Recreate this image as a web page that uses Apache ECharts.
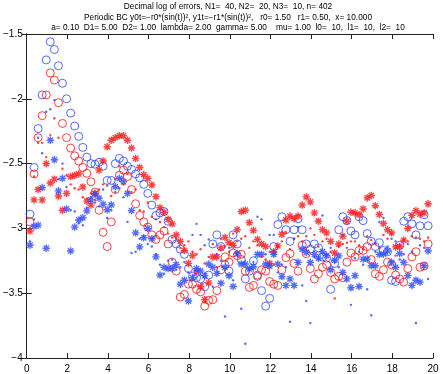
<!DOCTYPE html>
<html>
<head>
<meta charset="utf-8">
<script src="https://cdn.jsdelivr.net/npm/echarts@6/dist/echarts.min.js"></script>
<style>
  html, body { margin: 0; padding: 0; background: #fff; }
  #chart { width: 443px; height: 374px; }
</style>
</head>
<body>
<div id="chart"></div>
<script>
// sample points: x = 0.16, 0.36, ... 19.76 (99 points)
var xStart = 0.16, xStep = 0.2;

var xTicks = [0, 2, 4, 6, 8, 10, 12, 14, 16, 18, 20];
var yTicks = [-4, -3.5, -3, -2.5, -2, -1.5];

var titleLines = [
  'Decimal log of errors, N1=  40, N2=  20, N3=  10, n= 402',
  'Periodic BC y0t=\u2212r0*(sin(t))\u00b2, y1t=\u2212r1*(sin(t))\u00b2,   r0= 1.50   r1= 0.50,  x= 10.000',
  'a= 0.10  D1= 5.00  D2= 1.00  lambda= 2.00  gamma= 5.00    mu= 1.00  l0=  10,  l1=  10,  l2=  10'
];

// blue circles
var blueCircle = [
  -2.89, -2.53, -2.23, -1.97, -1.70, -1.56, -1.62, -1.745, -1.88, -2.00,
  -2.11, -2.21, -2.29, -2.375, -2.45, -2.50, -2.505, -2.49, -2.52, -2.63,
  -2.63, -2.50, -2.46, -2.48, -2.52, -2.545, -2.58, -2.61, -2.66, -2.73,
  -2.82, -2.90, -2.88, -2.87, -2.945, -3.085, -3.12, -3.16, -3.20, -3.31,
  -3.37, -3.38, -3.39, -3.45, -3.36, -3.12, -3.05, -3.14, -3.28, -3.33,
  -3.05, -3.12, -3.24, -3.39, -3.33, -3.25, -3.37, -3.48, -3.60, -3.54,
  -3.14, -2.97, -2.91, -3.01, -3.10, -3.01, -2.925, -3.01, -3.12, -3.16,
  -3.12, -3.15, -3.22, -3.23, -3.47, -3.27, -3.01, -2.91, -2.94, -3.02,
  -3.05, -2.91, -2.94, -3.04, -3.10, -3.14, -3.11, -3.17, -3.18, -3.40,
  -3.41, -3.13, -2.945, -2.91, -2.965, -3.05, -2.98, -2.895, -2.98
];

// red circles
var redCircle = [
  -2.95, -2.58, -2.30, -2.13, -1.97, -1.80, -1.855, -2.03, -2.19, -2.30,
  -2.38, -2.44, -2.48, -2.53, -2.575, -2.64, -2.72, -2.86, -3.03, -3.14,
  -2.95, -2.70, -2.59, -2.55, -2.60, -2.70, -2.81, -2.90, -2.95, -2.99,
  -3.05, -3.085, -3.05, -3.02, -3.12, -3.26, -3.33, -3.53, -3.51, -3.43,
  -3.43, -3.47, -3.49, -3.60, -3.555, -3.55, -3.48, -3.32, -3.22, -3.26,
  -3.19, -3.21, -3.20, -3.33, -3.455, -3.44, -3.36, -3.32, -3.33, -3.41,
  -3.43, -3.44, -3.32, -3.225, -3.195, -3.27, -3.33, -3.13, -3.195, -3.31,
  -3.39, -3.35, -3.30, -3.28, -3.34, -3.39, -3.37, -3.38, -3.26, -3.19,
  -3.22, -3.17, -3.17, -3.14, -3.24, -3.35, -3.37, -3.32, -3.26, -3.28,
  -3.36, -3.39, -3.415, -3.31, -3.22, -3.18, -3.30, -3.29, -3.12
];

// red stars
var redStar = [
  -3.02, -2.78, -2.70, -2.78, -2.50, -2.65, -2.62, -2.75, -2.86, -2.73,
  -2.60, -2.59, -2.58, -2.68, -2.79, -2.82, -2.73, -2.55, -2.48, -2.37,
  -2.32, -2.30, -2.285, -2.285, -2.32, -2.38, -2.46, -2.53, -2.585, -2.615,
  -2.665, -2.755, -2.84, -2.875, -2.93, -2.965, -3.05, -3.10, -3.17, -3.27,
  -3.21, -3.33, -3.45, -3.55, -3.42, -3.22, -3.22, -3.15, -3.07, -3.11,
  -3.13, -3.01, -2.87, -2.86, -2.955, -3.015, -3.085, -3.12, -3.14, -3.27,
  -3.18, -3.135, -3.045, -2.935, -2.905, -2.925, -2.905, -2.82, -2.757, -2.795,
  -2.88, -2.945, -3.01, -3.034, -3.10, -3.19, -3.12, -3.06, -2.945, -2.875,
  -2.88, -2.895, -2.85, -2.765, -2.746, -2.825, -2.892, -2.962, -3.01, -3.034,
  -3.143, -3.14, -3.09, -3.00, -2.90, -2.863, -2.89, -2.88, -2.81
];

// blue stars
var blueStar = [
  -3.13, -2.985, -2.975, -2.685, -3.153, -2.32, -2.47, -2.71, -2.614, -2.85,
  -3.174, -2.99, -2.935, -2.918, -2.865, -2.78, -2.734, -2.767, -2.813, -2.856,
  -2.818, -2.678, -2.614, -2.64, -2.73, -2.863, -3.034, -3.143, -3.072, -3.00,
  -3.08, -3.22, -3.36, -3.30, -3.31, -3.31, -3.28, -3.43, -3.40, -3.56,
  -3.38, -3.31, -3.33, -3.365, -3.275, -3.30, -3.347, -3.423, -3.30, -3.365,
  -3.448, -3.194, -3.275, -3.275, -3.313, -3.296, -3.20, -3.20, -3.275, -3.29,
  -3.20, -3.275, -3.372, -3.44, -3.39, -3.44, -3.262, -3.16, -3.186, -3.262,
  -3.20, -3.23, -3.18, -3.21, -3.32, -3.245, -3.212, -3.339, -3.39, -3.458,
  -3.364, -3.448, -3.237, -3.237, -3.288, -3.288, -3.20, -3.199, -3.174, -3.262,
  -3.30, -3.194, -3.262, -3.364, -3.44, -3.40, -3.415, -3.288, -3.174
];

// red dots
var redDot = [
  -3.00, -2.60, -2.34, -2.34, -2.45, -2.28, -2.15, -2.30, -2.54, -2.59,
  -2.66, -2.69, -2.70, -2.76, -2.77, -2.73, -2.78, -2.70, -2.66, -2.67,
  -2.75, -2.62, -2.52, -2.66, -2.58, -2.72, -2.70, -2.86, -2.87, -2.80,
  -2.91, -2.93, -2.95, -2.99, -3.04, -3.07, -3.08, -3.15, -3.13, -3.10,
  -3.18, -3.20, -3.16, -3.27, -3.22, -3.12, -3.30, -3.08, -3.14, -3.18,
  -3.04, -3.10, -3.08, -3.06, -3.15, -3.10, -3.13, -3.22, -3.24, -3.18,
  -3.28, -3.14, -3.10, -3.03, -3.16, -3.08, -3.06, -3.10, -3.06, -3.00,
  -3.05, -3.14, -3.10, -3.08, -3.18, -3.54, -3.14, -3.12, -3.11, -3.10,
  -3.10, -3.13, -3.16, -3.06, -3.09, -3.12, -3.15, -3.05, -3.08, -3.04,
  -3.21, -3.13, -3.09, -3.10, -3.06, -3.07, -3.08, -3.10, -3.07
];

// blue dots
var blueDot = [
  -3.10, -2.93, -2.30, -2.42, -2.10, -2.08, -2.01, -2.62, -2.50, -2.68,
  -2.86, -2.87, -2.96, -2.975, -2.84, -2.76, -2.80, -2.83, -2.70, -2.92,
  -2.86, -2.72, -2.69, -2.76, -2.95, -3.19, -3.18, -3.08, -3.06, -3.12,
  -3.14, -3.20, -3.28, -3.35, -3.25, -3.24, -3.32, -3.30, -3.26, -3.34,
  -3.05, -2.965, -3.05, -3.13, -3.085, -3.45, -3.20, -3.25, -3.68, -3.15,
  -3.40, -3.20, -3.62, -3.89, -3.32, -3.26, -2.91, -2.93, -3.20, -3.05,
  -3.05, -3.34, -3.28, -3.30, -3.72, -3.08, -2.99, -3.44, -3.56, -3.73,
  -3.22, -3.24, -2.90, -3.20, -3.15, -3.26, -3.30, -3.05, -3.15, -3.59,
  -3.23, -3.18, -3.28, -3.47, -3.67, -3.18, -2.95, -2.92, -3.14, -3.08,
  -3.10, -3.24, -3.20, -3.12, -3.18, -3.73, -3.13, -3.15, -3.39
];

var BLUE = '#2a48ff';
var RED = '#ff1414';
var FONT = 'Liberation Sans';

// asterisk marker (matlab '*'), filled strokes so it reads as a small blob
var starPath = 'path://M4.1,0 L5.9,0 L5.9,10 L4.1,10 Z M0,4.1 L10,4.1 L10,5.9 L0,5.9 Z ' +
  'M0.8,2.1 L2.1,0.8 L9.2,7.9 L7.9,9.2 Z M7.9,0.8 L9.2,2.1 L2.1,9.2 L0.8,7.9 Z ' +
  'M3.3,3.3 L6.7,3.3 L6.7,6.7 L3.3,6.7 Z';

function pts(ys) {
  return ys.map(function (y, i) {
    return [Math.round((xStart + i * xStep) * 100) / 100, y];
  });
}

function circleSeries(ys, color) {
  return {
    type: 'scatter', data: pts(ys), symbol: 'circle', symbolSize: 8,
    itemStyle: { color: 'rgba(0,0,0,0)', borderColor: color, borderWidth: 0.9, opacity: 0.9 },
    silent: true, z: 2
  };
}
function starSeries(ys, color) {
  return {
    type: 'scatter', data: pts(ys), symbol: starPath, symbolSize: 7.5,
    itemStyle: { color: color, opacity: 0.8 }, silent: true, z: 3
  };
}
function dotSeries(ys, color) {
  return {
    type: 'scatter', data: pts(ys), symbol: 'circle', symbolSize: 2.4,
    itemStyle: { color: color }, silent: true, z: 4
  };
}

var chart = echarts.init(document.getElementById('chart'), null, { renderer: 'canvas' });

var axisLine = { show: true, lineStyle: { color: '#222', width: 1 } };
var tick = { show: true, inside: true, length: 5, lineStyle: { color: '#222' } };

var option = {
  animation: false,
  backgroundColor: '#fff',
  textStyle: { fontFamily: FONT },
  grid: { left: 22, right: 10, top: 34, bottom: 12, containLabel: false },
  graphic: titleLines.map(function (t, i) {
    return {
      type: 'text', x: 228, y: 3 + i * 10.3,
      style: { text: t, textAlign: 'center', fontSize: 8.3, fontFamily: FONT, fill: '#000' },
      silent: true
    };
  }),
  xAxis: [{
    type: 'value', min: xTicks[0], max: xTicks[xTicks.length - 1], interval: 2,
    axisLine: axisLine, axisTick: tick, splitLine: { show: false },
    axisLabel: { fontSize: 10, color: '#000', margin: 6, fontFamily: FONT }
  }, {
    type: 'value', position: 'top', min: 0, max: 20, interval: 2,
    axisLine: axisLine, axisTick: tick, splitLine: { show: false },
    axisLabel: { show: false }
  }],
  yAxis: [{
    type: 'value', min: yTicks[0], max: yTicks[yTicks.length - 1], interval: 0.5,
    axisLine: axisLine, axisTick: tick, splitLine: { show: false },
    axisLabel: {
      fontSize: 10, color: '#000', margin: 4, fontFamily: FONT,
      formatter: function (v) { return String(v).replace('-', '\u2212'); }
    }
  }, {
    type: 'value', position: 'right', min: -4, max: -1.5, interval: 0.5,
    axisLine: axisLine, axisTick: tick, splitLine: { show: false },
    axisLabel: { show: false }
  }],
  series: [
    dotSeries(redDot, RED),
    dotSeries(blueDot, BLUE),
    circleSeries(blueCircle, BLUE),
    circleSeries(redCircle, RED),
    starSeries(redStar, RED),
    starSeries(blueStar, BLUE)
  ]
};

chart.setOption(option);
</script>
</body>
</html>
